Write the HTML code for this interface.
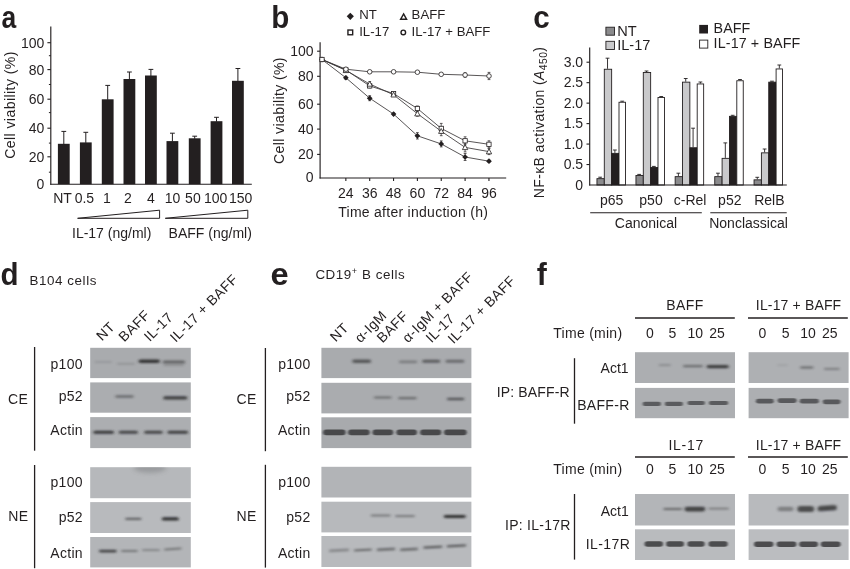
<!DOCTYPE html>
<html><head><meta charset="utf-8"><title>Figure</title>
<style>html,body{margin:0;padding:0;background:#fff;}svg{display:block;will-change:transform;font-family:"Liberation Sans",sans-serif;}</style>
</head><body>
<svg width="850" height="569" viewBox="0 0 850 569">
<rect width="850" height="569" fill="#fff"/>
<text transform="translate(1.5 27.7) scale(0.86 1)" font-size="30.8" font-weight="bold" fill="#231f20">a</text>
<text transform="translate(271.2 27.7) scale(0.96 1)" font-size="30.8" font-weight="bold" fill="#231f20">b</text>
<text transform="translate(533.3 27.5) scale(0.96 1)" font-size="30.8" font-weight="bold" fill="#231f20">c</text>
<text transform="translate(0.4 284.7) scale(0.96 1)" font-size="30.8" font-weight="bold" fill="#231f20">d</text>
<text transform="translate(270.6 284.5) scale(1.06 1)" font-size="30.8" font-weight="bold" fill="#231f20">e</text>
<text transform="translate(536.8 284.5) scale(0.98 1)" font-size="30.8" font-weight="bold" fill="#231f20">f</text>
<line x1="50.8" y1="26.5" x2="50.8" y2="184.75" stroke="#231f20" stroke-width="1.15"/>
<line x1="50.25" y1="184.2" x2="251.8" y2="184.2" stroke="#231f20" stroke-width="1.15"/>
<line x1="48.9" y1="172.2" x2="50.8" y2="172.2" stroke="#231f20" stroke-width="1.0"/>
<line x1="47.4" y1="156.8" x2="50.8" y2="156.8" stroke="#231f20" stroke-width="1.1"/>
<line x1="48.9" y1="143.1" x2="50.8" y2="143.1" stroke="#231f20" stroke-width="1.0"/>
<line x1="47.4" y1="128.2" x2="50.8" y2="128.2" stroke="#231f20" stroke-width="1.1"/>
<line x1="48.9" y1="112.6" x2="50.8" y2="112.6" stroke="#231f20" stroke-width="1.0"/>
<line x1="47.4" y1="99.2" x2="50.8" y2="99.2" stroke="#231f20" stroke-width="1.1"/>
<line x1="48.9" y1="84.5" x2="50.8" y2="84.5" stroke="#231f20" stroke-width="1.0"/>
<line x1="47.4" y1="69.6" x2="50.8" y2="69.6" stroke="#231f20" stroke-width="1.1"/>
<line x1="48.9" y1="55.7" x2="50.8" y2="55.7" stroke="#231f20" stroke-width="1.0"/>
<line x1="47.4" y1="42.7" x2="50.8" y2="42.7" stroke="#231f20" stroke-width="1.1"/>
<text x="44.3" y="161.8" font-size="14" text-anchor="end" fill="#231f20">20</text>
<text x="44.3" y="133.2" font-size="14" text-anchor="end" fill="#231f20">40</text>
<text x="44.3" y="104.2" font-size="14" text-anchor="end" fill="#231f20">60</text>
<text x="44.3" y="74.6" font-size="14" text-anchor="end" fill="#231f20">80</text>
<text x="44.3" y="47.7" font-size="14" text-anchor="end" fill="#231f20">100</text>
<text x="44.3" y="188.8" font-size="14" text-anchor="end" fill="#231f20">0</text>
<text transform="translate(15.2 105) rotate(-90)" font-size="14" text-anchor="middle" letter-spacing="0.45" fill="#231f20">Cell viability (%)</text>
<rect x="57.90" y="143.80" width="11.80" height="40.40" fill="#231f20"/>
<line x1="63.8" y1="131.4" x2="63.8" y2="144.3" stroke="#231f20" stroke-width="1.0"/>
<line x1="61.4" y1="131.4" x2="66.2" y2="131.4" stroke="#231f20" stroke-width="1.0"/>
<text x="62.5" y="202.6" font-size="14" text-anchor="middle" fill="#231f20">NT</text>
<rect x="79.90" y="142.40" width="11.80" height="41.80" fill="#231f20"/>
<line x1="85.80000000000001" y1="132.3" x2="85.80000000000001" y2="142.9" stroke="#231f20" stroke-width="1.0"/>
<line x1="83.4" y1="132.3" x2="88.20000000000002" y2="132.3" stroke="#231f20" stroke-width="1.0"/>
<text x="84.4" y="202.6" font-size="14" text-anchor="middle" fill="#231f20">0.5</text>
<rect x="101.80" y="99.30" width="11.80" height="84.90" fill="#231f20"/>
<line x1="107.7" y1="85.4" x2="107.7" y2="99.8" stroke="#231f20" stroke-width="1.0"/>
<line x1="105.3" y1="85.4" x2="110.10000000000001" y2="85.4" stroke="#231f20" stroke-width="1.0"/>
<text x="106.8" y="202.6" font-size="14" text-anchor="middle" fill="#231f20">1</text>
<rect x="123.50" y="79.00" width="11.80" height="105.20" fill="#231f20"/>
<line x1="129.4" y1="72.0" x2="129.4" y2="79.5" stroke="#231f20" stroke-width="1.0"/>
<line x1="127.0" y1="72.0" x2="131.8" y2="72.0" stroke="#231f20" stroke-width="1.0"/>
<text x="128.0" y="202.6" font-size="14" text-anchor="middle" fill="#231f20">2</text>
<rect x="145.00" y="75.50" width="11.80" height="108.70" fill="#231f20"/>
<line x1="150.9" y1="69.4" x2="150.9" y2="76.0" stroke="#231f20" stroke-width="1.0"/>
<line x1="148.5" y1="69.4" x2="153.3" y2="69.4" stroke="#231f20" stroke-width="1.0"/>
<text x="150.9" y="202.6" font-size="14" text-anchor="middle" fill="#231f20">4</text>
<rect x="166.50" y="141.10" width="11.80" height="43.10" fill="#231f20"/>
<line x1="172.4" y1="133.2" x2="172.4" y2="141.6" stroke="#231f20" stroke-width="1.0"/>
<line x1="170.0" y1="133.2" x2="174.8" y2="133.2" stroke="#231f20" stroke-width="1.0"/>
<text x="172.6" y="202.6" font-size="14" text-anchor="middle" fill="#231f20">10</text>
<rect x="188.80" y="138.30" width="11.80" height="45.90" fill="#231f20"/>
<line x1="194.70000000000002" y1="136.2" x2="194.70000000000002" y2="138.8" stroke="#231f20" stroke-width="1.0"/>
<line x1="192.3" y1="136.2" x2="197.10000000000002" y2="136.2" stroke="#231f20" stroke-width="1.0"/>
<text x="192.9" y="202.6" font-size="14" text-anchor="middle" fill="#231f20">50</text>
<rect x="210.60" y="121.20" width="11.80" height="63.00" fill="#231f20"/>
<line x1="216.5" y1="117.3" x2="216.5" y2="121.7" stroke="#231f20" stroke-width="1.0"/>
<line x1="214.1" y1="117.3" x2="218.9" y2="117.3" stroke="#231f20" stroke-width="1.0"/>
<text x="215.6" y="202.6" font-size="14" text-anchor="middle" fill="#231f20">100</text>
<rect x="232.00" y="80.80" width="11.80" height="103.40" fill="#231f20"/>
<line x1="237.9" y1="68.5" x2="237.9" y2="81.3" stroke="#231f20" stroke-width="1.0"/>
<line x1="235.5" y1="68.5" x2="240.3" y2="68.5" stroke="#231f20" stroke-width="1.0"/>
<text x="240.7" y="202.6" font-size="14" text-anchor="middle" fill="#231f20">150</text>
<path d="M77.6 218.3 L159.6 210.2 L159.6 218.3 Z" fill="#fff" stroke="#231f20" stroke-width="1"/>
<path d="M165.3 218.3 L247.8 210.2 L247.8 218.3 Z" fill="#fff" stroke="#231f20" stroke-width="1"/>
<text x="72.0" y="237.9" font-size="14" fill="#231f20">IL-17 (ng/ml)</text>
<text x="168.6" y="237.9" font-size="14" fill="#231f20">BAFF (ng/ml)</text>
<line x1="320.1" y1="42.2" x2="320.1" y2="178.55" stroke="#231f20" stroke-width="1.15"/>
<line x1="319.55" y1="178.0" x2="506.2" y2="178.0" stroke="#231f20" stroke-width="1.15"/>
<line x1="317.1" y1="154.4" x2="320.1" y2="154.4" stroke="#231f20" stroke-width="1.1"/>
<line x1="317.1" y1="129.1" x2="320.1" y2="129.1" stroke="#231f20" stroke-width="1.1"/>
<line x1="317.1" y1="104.2" x2="320.1" y2="104.2" stroke="#231f20" stroke-width="1.1"/>
<line x1="317.1" y1="76.3" x2="320.1" y2="76.3" stroke="#231f20" stroke-width="1.1"/>
<line x1="317.1" y1="51.2" x2="320.1" y2="51.2" stroke="#231f20" stroke-width="1.1"/>
<text x="313.5" y="182.2" font-size="14" text-anchor="end" fill="#231f20">0</text>
<text x="313.5" y="159.3" font-size="14" text-anchor="end" fill="#231f20">20</text>
<text x="313.5" y="133.9" font-size="14" text-anchor="end" fill="#231f20">40</text>
<text x="313.5" y="109.4" font-size="14" text-anchor="end" fill="#231f20">60</text>
<text x="313.5" y="81.1" font-size="14" text-anchor="end" fill="#231f20">80</text>
<text x="313.5" y="55.800000000000004" font-size="14" text-anchor="end" fill="#231f20">100</text>
<text transform="translate(284.2 110.5) rotate(-90)" font-size="14" text-anchor="middle" letter-spacing="0.4" fill="#231f20">Cell viability (%)</text>
<line x1="345.85" y1="178.0" x2="345.85" y2="181.0" stroke="#231f20" stroke-width="1.1"/>
<text x="345.85" y="197.6" font-size="14" text-anchor="middle" fill="#231f20">24</text>
<line x1="369.7" y1="178.0" x2="369.7" y2="181.0" stroke="#231f20" stroke-width="1.1"/>
<text x="369.7" y="197.6" font-size="14" text-anchor="middle" fill="#231f20">36</text>
<line x1="393.55" y1="178.0" x2="393.55" y2="181.0" stroke="#231f20" stroke-width="1.1"/>
<text x="393.55" y="197.6" font-size="14" text-anchor="middle" fill="#231f20">48</text>
<line x1="417.4" y1="178.0" x2="417.4" y2="181.0" stroke="#231f20" stroke-width="1.1"/>
<text x="417.4" y="197.6" font-size="14" text-anchor="middle" fill="#231f20">60</text>
<line x1="441.25" y1="178.0" x2="441.25" y2="181.0" stroke="#231f20" stroke-width="1.1"/>
<text x="441.25" y="197.6" font-size="14" text-anchor="middle" fill="#231f20">72</text>
<line x1="465.1" y1="178.0" x2="465.1" y2="181.0" stroke="#231f20" stroke-width="1.1"/>
<text x="465.1" y="197.6" font-size="14" text-anchor="middle" fill="#231f20">84</text>
<line x1="488.95000000000005" y1="178.0" x2="488.95000000000005" y2="181.0" stroke="#231f20" stroke-width="1.1"/>
<text x="488.95000000000005" y="197.6" font-size="14" text-anchor="middle" fill="#231f20">96</text>
<text x="413.2" y="216.8" font-size="14" text-anchor="middle" letter-spacing="0.27" fill="#231f20">Time after induction (h)</text>
<polyline points="322.0,59.5 345.9,69.2 369.7,71.8 393.6,71.8 417.4,72.2 441.2,74.3 465.1,75.0 489.0,76.0" fill="none" stroke="#3a3637" stroke-width="0.85"/>
<line x1="345.9" y1="68.2" x2="345.9" y2="70.2" stroke="#3a3637" stroke-width="0.8"/>
<line x1="344.5" y1="68.2" x2="347.2" y2="68.2" stroke="#3a3637" stroke-width="0.8"/>
<line x1="344.5" y1="70.2" x2="347.2" y2="70.2" stroke="#3a3637" stroke-width="0.8"/>
<line x1="369.7" y1="70.8" x2="369.7" y2="72.8" stroke="#3a3637" stroke-width="0.8"/>
<line x1="368.3" y1="70.8" x2="371.1" y2="70.8" stroke="#3a3637" stroke-width="0.8"/>
<line x1="368.3" y1="72.8" x2="371.1" y2="72.8" stroke="#3a3637" stroke-width="0.8"/>
<line x1="393.6" y1="70.8" x2="393.6" y2="72.8" stroke="#3a3637" stroke-width="0.8"/>
<line x1="392.2" y1="70.8" x2="394.9" y2="70.8" stroke="#3a3637" stroke-width="0.8"/>
<line x1="392.2" y1="72.8" x2="394.9" y2="72.8" stroke="#3a3637" stroke-width="0.8"/>
<line x1="417.4" y1="71.2" x2="417.4" y2="73.2" stroke="#3a3637" stroke-width="0.8"/>
<line x1="416.0" y1="71.2" x2="418.8" y2="71.2" stroke="#3a3637" stroke-width="0.8"/>
<line x1="416.0" y1="73.2" x2="418.8" y2="73.2" stroke="#3a3637" stroke-width="0.8"/>
<line x1="441.2" y1="73.1" x2="441.2" y2="75.5" stroke="#3a3637" stroke-width="0.8"/>
<line x1="439.9" y1="73.1" x2="442.6" y2="73.1" stroke="#3a3637" stroke-width="0.8"/>
<line x1="439.9" y1="75.5" x2="442.6" y2="75.5" stroke="#3a3637" stroke-width="0.8"/>
<line x1="465.1" y1="72.8" x2="465.1" y2="77.2" stroke="#3a3637" stroke-width="0.8"/>
<line x1="463.7" y1="72.8" x2="466.5" y2="72.8" stroke="#3a3637" stroke-width="0.8"/>
<line x1="463.7" y1="77.2" x2="466.5" y2="77.2" stroke="#3a3637" stroke-width="0.8"/>
<line x1="489.0" y1="72.4" x2="489.0" y2="79.6" stroke="#3a3637" stroke-width="0.8"/>
<line x1="487.6" y1="72.4" x2="490.4" y2="72.4" stroke="#3a3637" stroke-width="0.8"/>
<line x1="487.6" y1="79.6" x2="490.4" y2="79.6" stroke="#3a3637" stroke-width="0.8"/>
<polyline points="322.0,59.5 345.9,70.0 369.7,85.9 393.6,93.6 417.4,108.5 441.2,128.4 465.1,140.8 489.0,144.3" fill="none" stroke="#3a3637" stroke-width="0.85"/>
<line x1="345.9" y1="69.0" x2="345.9" y2="71.0" stroke="#3a3637" stroke-width="0.8"/>
<line x1="344.5" y1="69.0" x2="347.2" y2="69.0" stroke="#3a3637" stroke-width="0.8"/>
<line x1="344.5" y1="71.0" x2="347.2" y2="71.0" stroke="#3a3637" stroke-width="0.8"/>
<line x1="369.7" y1="83.9" x2="369.7" y2="87.9" stroke="#3a3637" stroke-width="0.8"/>
<line x1="368.3" y1="83.9" x2="371.1" y2="83.9" stroke="#3a3637" stroke-width="0.8"/>
<line x1="368.3" y1="87.9" x2="371.1" y2="87.9" stroke="#3a3637" stroke-width="0.8"/>
<line x1="393.6" y1="92.1" x2="393.6" y2="95.1" stroke="#3a3637" stroke-width="0.8"/>
<line x1="392.2" y1="92.1" x2="394.9" y2="92.1" stroke="#3a3637" stroke-width="0.8"/>
<line x1="392.2" y1="95.1" x2="394.9" y2="95.1" stroke="#3a3637" stroke-width="0.8"/>
<line x1="417.4" y1="106.0" x2="417.4" y2="111.0" stroke="#3a3637" stroke-width="0.8"/>
<line x1="416.0" y1="106.0" x2="418.8" y2="106.0" stroke="#3a3637" stroke-width="0.8"/>
<line x1="416.0" y1="111.0" x2="418.8" y2="111.0" stroke="#3a3637" stroke-width="0.8"/>
<line x1="441.2" y1="123.4" x2="441.2" y2="133.4" stroke="#3a3637" stroke-width="0.8"/>
<line x1="439.9" y1="123.4" x2="442.6" y2="123.4" stroke="#3a3637" stroke-width="0.8"/>
<line x1="439.9" y1="133.4" x2="442.6" y2="133.4" stroke="#3a3637" stroke-width="0.8"/>
<line x1="465.1" y1="136.8" x2="465.1" y2="144.8" stroke="#3a3637" stroke-width="0.8"/>
<line x1="463.7" y1="136.8" x2="466.5" y2="136.8" stroke="#3a3637" stroke-width="0.8"/>
<line x1="463.7" y1="144.8" x2="466.5" y2="144.8" stroke="#3a3637" stroke-width="0.8"/>
<line x1="489.0" y1="140.8" x2="489.0" y2="147.8" stroke="#3a3637" stroke-width="0.8"/>
<line x1="487.6" y1="140.8" x2="490.4" y2="140.8" stroke="#3a3637" stroke-width="0.8"/>
<line x1="487.6" y1="147.8" x2="490.4" y2="147.8" stroke="#3a3637" stroke-width="0.8"/>
<polyline points="322.0,59.5 345.9,70.4 369.7,84.0 393.6,94.8 417.4,113.7 441.2,131.2 465.1,147.4 489.0,151.6" fill="none" stroke="#3a3637" stroke-width="0.85"/>
<line x1="345.9" y1="69.4" x2="345.9" y2="71.4" stroke="#3a3637" stroke-width="0.8"/>
<line x1="344.5" y1="69.4" x2="347.2" y2="69.4" stroke="#3a3637" stroke-width="0.8"/>
<line x1="344.5" y1="71.4" x2="347.2" y2="71.4" stroke="#3a3637" stroke-width="0.8"/>
<line x1="369.7" y1="81.5" x2="369.7" y2="86.5" stroke="#3a3637" stroke-width="0.8"/>
<line x1="368.3" y1="81.5" x2="371.1" y2="81.5" stroke="#3a3637" stroke-width="0.8"/>
<line x1="368.3" y1="86.5" x2="371.1" y2="86.5" stroke="#3a3637" stroke-width="0.8"/>
<line x1="393.6" y1="93.3" x2="393.6" y2="96.3" stroke="#3a3637" stroke-width="0.8"/>
<line x1="392.2" y1="93.3" x2="394.9" y2="93.3" stroke="#3a3637" stroke-width="0.8"/>
<line x1="392.2" y1="96.3" x2="394.9" y2="96.3" stroke="#3a3637" stroke-width="0.8"/>
<line x1="417.4" y1="111.2" x2="417.4" y2="116.2" stroke="#3a3637" stroke-width="0.8"/>
<line x1="416.0" y1="111.2" x2="418.8" y2="111.2" stroke="#3a3637" stroke-width="0.8"/>
<line x1="416.0" y1="116.2" x2="418.8" y2="116.2" stroke="#3a3637" stroke-width="0.8"/>
<line x1="441.2" y1="126.7" x2="441.2" y2="135.7" stroke="#3a3637" stroke-width="0.8"/>
<line x1="439.9" y1="126.7" x2="442.6" y2="126.7" stroke="#3a3637" stroke-width="0.8"/>
<line x1="439.9" y1="135.7" x2="442.6" y2="135.7" stroke="#3a3637" stroke-width="0.8"/>
<line x1="465.1" y1="142.9" x2="465.1" y2="151.9" stroke="#3a3637" stroke-width="0.8"/>
<line x1="463.7" y1="142.9" x2="466.5" y2="142.9" stroke="#3a3637" stroke-width="0.8"/>
<line x1="463.7" y1="151.9" x2="466.5" y2="151.9" stroke="#3a3637" stroke-width="0.8"/>
<line x1="489.0" y1="148.6" x2="489.0" y2="154.6" stroke="#3a3637" stroke-width="0.8"/>
<line x1="487.6" y1="148.6" x2="490.4" y2="148.6" stroke="#3a3637" stroke-width="0.8"/>
<line x1="487.6" y1="154.6" x2="490.4" y2="154.6" stroke="#3a3637" stroke-width="0.8"/>
<polyline points="322.0,59.5 345.9,77.8 369.7,98.2 393.6,114.1 417.4,135.8 441.2,143.9 465.1,157.0 489.0,161.2" fill="none" stroke="#3a3637" stroke-width="0.85"/>
<line x1="345.9" y1="76.3" x2="345.9" y2="79.3" stroke="#3a3637" stroke-width="0.8"/>
<line x1="344.5" y1="76.3" x2="347.2" y2="76.3" stroke="#3a3637" stroke-width="0.8"/>
<line x1="344.5" y1="79.3" x2="347.2" y2="79.3" stroke="#3a3637" stroke-width="0.8"/>
<line x1="369.7" y1="95.7" x2="369.7" y2="100.7" stroke="#3a3637" stroke-width="0.8"/>
<line x1="368.3" y1="95.7" x2="371.1" y2="95.7" stroke="#3a3637" stroke-width="0.8"/>
<line x1="368.3" y1="100.7" x2="371.1" y2="100.7" stroke="#3a3637" stroke-width="0.8"/>
<line x1="393.6" y1="113.1" x2="393.6" y2="115.1" stroke="#3a3637" stroke-width="0.8"/>
<line x1="392.2" y1="113.1" x2="394.9" y2="113.1" stroke="#3a3637" stroke-width="0.8"/>
<line x1="392.2" y1="115.1" x2="394.9" y2="115.1" stroke="#3a3637" stroke-width="0.8"/>
<line x1="417.4" y1="132.6" x2="417.4" y2="139.0" stroke="#3a3637" stroke-width="0.8"/>
<line x1="416.0" y1="132.6" x2="418.8" y2="132.6" stroke="#3a3637" stroke-width="0.8"/>
<line x1="416.0" y1="139.0" x2="418.8" y2="139.0" stroke="#3a3637" stroke-width="0.8"/>
<line x1="441.2" y1="140.9" x2="441.2" y2="146.9" stroke="#3a3637" stroke-width="0.8"/>
<line x1="439.9" y1="140.9" x2="442.6" y2="140.9" stroke="#3a3637" stroke-width="0.8"/>
<line x1="439.9" y1="146.9" x2="442.6" y2="146.9" stroke="#3a3637" stroke-width="0.8"/>
<line x1="465.1" y1="153.5" x2="465.1" y2="160.5" stroke="#3a3637" stroke-width="0.8"/>
<line x1="463.7" y1="153.5" x2="466.5" y2="153.5" stroke="#3a3637" stroke-width="0.8"/>
<line x1="463.7" y1="160.5" x2="466.5" y2="160.5" stroke="#3a3637" stroke-width="0.8"/>
<line x1="489.0" y1="160.2" x2="489.0" y2="162.2" stroke="#3a3637" stroke-width="0.8"/>
<line x1="487.6" y1="160.2" x2="490.4" y2="160.2" stroke="#3a3637" stroke-width="0.8"/>
<line x1="487.6" y1="162.2" x2="490.4" y2="162.2" stroke="#3a3637" stroke-width="0.8"/>
<path d="M322.0 56.6 L324.9 59.5 L322.0 62.4 L319.1 59.5 Z" fill="#231f20"/>
<path d="M345.9 75.0 L348.7 77.8 L345.9 80.6 L343.0 77.8 Z" fill="#231f20"/>
<path d="M369.7 95.4 L372.6 98.2 L369.7 101.0 L366.8 98.2 Z" fill="#231f20"/>
<path d="M393.6 111.2 L396.4 114.1 L393.6 116.9 L390.7 114.1 Z" fill="#231f20"/>
<path d="M417.4 133.0 L420.2 135.8 L417.4 138.7 L414.5 135.8 Z" fill="#231f20"/>
<path d="M441.2 141.1 L444.1 143.9 L441.2 146.8 L438.4 143.9 Z" fill="#231f20"/>
<path d="M465.1 154.2 L468.0 157.0 L465.1 159.8 L462.2 157.0 Z" fill="#231f20"/>
<path d="M489.0 158.3 L491.8 161.2 L489.0 164.0 L486.1 161.2 Z" fill="#231f20"/>
<rect x="343.70" y="67.85" width="4.30" height="4.30" fill="#fff" stroke="#231f20" stroke-width="0.8"/>
<rect x="367.55" y="83.75" width="4.30" height="4.30" fill="#fff" stroke="#231f20" stroke-width="0.8"/>
<rect x="391.40" y="91.45" width="4.30" height="4.30" fill="#fff" stroke="#231f20" stroke-width="0.8"/>
<rect x="415.25" y="106.35" width="4.30" height="4.30" fill="#fff" stroke="#231f20" stroke-width="0.8"/>
<rect x="439.10" y="126.25" width="4.30" height="4.30" fill="#fff" stroke="#231f20" stroke-width="0.8"/>
<rect x="462.95" y="138.65" width="4.30" height="4.30" fill="#fff" stroke="#231f20" stroke-width="0.8"/>
<rect x="486.80" y="142.15" width="4.30" height="4.30" fill="#fff" stroke="#231f20" stroke-width="0.8"/>
<path d="M345.9 67.7 L348.6 72.6 L343.2 72.6 Z" fill="#fff" stroke="#231f20" stroke-width="0.8"/>
<path d="M369.7 81.3 L372.4 86.2 L367.0 86.2 Z" fill="#fff" stroke="#231f20" stroke-width="0.8"/>
<path d="M393.6 92.1 L396.2 97.0 L390.9 97.0 Z" fill="#fff" stroke="#231f20" stroke-width="0.8"/>
<path d="M417.4 111.0 L420.1 115.9 L414.7 115.9 Z" fill="#fff" stroke="#231f20" stroke-width="0.8"/>
<path d="M441.2 128.5 L443.9 133.4 L438.6 133.4 Z" fill="#fff" stroke="#231f20" stroke-width="0.8"/>
<path d="M465.1 144.7 L467.8 149.6 L462.4 149.6 Z" fill="#fff" stroke="#231f20" stroke-width="0.8"/>
<path d="M489.0 148.9 L491.7 153.8 L486.3 153.8 Z" fill="#fff" stroke="#231f20" stroke-width="0.8"/>
<circle cx="345.9" cy="69.2" r="2.3" fill="#fff" stroke="#231f20" stroke-width="0.8"/>
<circle cx="369.7" cy="71.8" r="2.3" fill="#fff" stroke="#231f20" stroke-width="0.8"/>
<circle cx="393.6" cy="71.8" r="2.3" fill="#fff" stroke="#231f20" stroke-width="0.8"/>
<circle cx="417.4" cy="72.2" r="2.3" fill="#fff" stroke="#231f20" stroke-width="0.8"/>
<circle cx="441.2" cy="74.3" r="2.3" fill="#fff" stroke="#231f20" stroke-width="0.8"/>
<circle cx="465.1" cy="75.0" r="2.3" fill="#fff" stroke="#231f20" stroke-width="0.8"/>
<circle cx="489.0" cy="76.0" r="2.3" fill="#fff" stroke="#231f20" stroke-width="0.8"/>
<rect x="319.85" y="57.35" width="4.30" height="4.30" fill="#fff" stroke="#231f20" stroke-width="0.8"/>
<path d="M350.3 12.7 L353.9 16.3 L350.3 19.9 L346.7 16.3 Z" fill="#231f20"/>
<text x="359.2" y="19.2" font-size="13.2" fill="#231f20">NT</text>
<rect x="347.94" y="30.03" width="4.73" height="4.73" fill="#fff" stroke="#231f20" stroke-width="1.4"/>
<text x="359.2" y="36.3" font-size="13.2" fill="#231f20">IL-17</text>
<path d="M403.6 13.9 L406.6 19.3 L400.6 19.3 Z" fill="#fff" stroke="#231f20" stroke-width="1.4"/>
<text x="411.6" y="19.2" font-size="13.2" fill="#231f20">BAFF</text>
<circle cx="403.3" cy="32.4" r="2.3" fill="#fff" stroke="#231f20" stroke-width="1.4"/>
<text x="411.6" y="36.3" font-size="13.2" fill="#231f20">IL-17 + BAFF</text>
<line x1="600.17" y1="177.2" x2="600.17" y2="178.2" stroke="#231f20" stroke-width="0.9"/>
<line x1="598.27" y1="177.2" x2="602.07" y2="177.2" stroke="#231f20" stroke-width="0.9"/>
<rect x="596.95" y="178.65" width="7.35" height="6.35" fill="#8b8b8d" stroke="#231f20" stroke-width="0.9"/>
<line x1="607.52" y1="58.2" x2="607.52" y2="68.8" stroke="#231f20" stroke-width="0.9"/>
<line x1="605.62" y1="58.2" x2="609.42" y2="58.2" stroke="#231f20" stroke-width="0.9"/>
<rect x="604.30" y="69.25" width="7.35" height="115.75" fill="#c9c9cb" stroke="#231f20" stroke-width="0.9"/>
<line x1="614.88" y1="150.0" x2="614.88" y2="152.9" stroke="#231f20" stroke-width="0.9"/>
<line x1="612.98" y1="150.0" x2="616.77" y2="150.0" stroke="#231f20" stroke-width="0.9"/>
<rect x="611.65" y="153.35" width="7.35" height="31.65" fill="#231f20" stroke="#231f20" stroke-width="0.9"/>
<line x1="622.22" y1="101.2" x2="622.22" y2="101.8" stroke="#231f20" stroke-width="0.9"/>
<line x1="620.32" y1="101.2" x2="624.12" y2="101.2" stroke="#231f20" stroke-width="0.9"/>
<rect x="619.00" y="102.25" width="6.45" height="82.75" fill="#fff" stroke="#231f20" stroke-width="0.9"/>
<line x1="639.17" y1="174.4" x2="639.17" y2="175.0" stroke="#231f20" stroke-width="0.9"/>
<line x1="637.27" y1="174.4" x2="641.07" y2="174.4" stroke="#231f20" stroke-width="0.9"/>
<rect x="635.95" y="175.45" width="7.35" height="9.55" fill="#8b8b8d" stroke="#231f20" stroke-width="0.9"/>
<line x1="646.52" y1="71.0" x2="646.52" y2="72.0" stroke="#231f20" stroke-width="0.9"/>
<line x1="644.62" y1="71.0" x2="648.42" y2="71.0" stroke="#231f20" stroke-width="0.9"/>
<rect x="643.30" y="72.45" width="7.35" height="112.55" fill="#c9c9cb" stroke="#231f20" stroke-width="0.9"/>
<line x1="653.88" y1="166.4" x2="653.88" y2="167.0" stroke="#231f20" stroke-width="0.9"/>
<line x1="651.98" y1="166.4" x2="655.77" y2="166.4" stroke="#231f20" stroke-width="0.9"/>
<rect x="650.65" y="167.45" width="7.35" height="17.55" fill="#231f20" stroke="#231f20" stroke-width="0.9"/>
<line x1="661.22" y1="96.5" x2="661.22" y2="97.0" stroke="#231f20" stroke-width="0.9"/>
<line x1="659.32" y1="96.5" x2="663.12" y2="96.5" stroke="#231f20" stroke-width="0.9"/>
<rect x="658.00" y="97.45" width="6.45" height="87.55" fill="#fff" stroke="#231f20" stroke-width="0.9"/>
<line x1="678.38" y1="173.2" x2="678.38" y2="176.2" stroke="#231f20" stroke-width="0.9"/>
<line x1="676.48" y1="173.2" x2="680.27" y2="173.2" stroke="#231f20" stroke-width="0.9"/>
<rect x="675.15" y="176.65" width="7.35" height="8.35" fill="#8b8b8d" stroke="#231f20" stroke-width="0.9"/>
<line x1="685.73" y1="78.5" x2="685.73" y2="81.7" stroke="#231f20" stroke-width="0.9"/>
<line x1="683.83" y1="78.5" x2="687.62" y2="78.5" stroke="#231f20" stroke-width="0.9"/>
<rect x="682.50" y="82.15" width="7.35" height="102.85" fill="#c9c9cb" stroke="#231f20" stroke-width="0.9"/>
<line x1="693.08" y1="128.2" x2="693.08" y2="147.3" stroke="#231f20" stroke-width="0.9"/>
<line x1="691.18" y1="128.2" x2="694.98" y2="128.2" stroke="#231f20" stroke-width="0.9"/>
<rect x="689.85" y="147.75" width="7.35" height="37.25" fill="#231f20" stroke="#231f20" stroke-width="0.9"/>
<line x1="700.42" y1="82.0" x2="700.42" y2="83.5" stroke="#231f20" stroke-width="0.9"/>
<line x1="698.52" y1="82.0" x2="702.32" y2="82.0" stroke="#231f20" stroke-width="0.9"/>
<rect x="697.20" y="83.95" width="6.45" height="101.05" fill="#fff" stroke="#231f20" stroke-width="0.9"/>
<line x1="717.97" y1="173.2" x2="717.97" y2="176.2" stroke="#231f20" stroke-width="0.9"/>
<line x1="716.07" y1="173.2" x2="719.87" y2="173.2" stroke="#231f20" stroke-width="0.9"/>
<rect x="714.75" y="176.65" width="7.35" height="8.35" fill="#8b8b8d" stroke="#231f20" stroke-width="0.9"/>
<line x1="725.32" y1="142.9" x2="725.32" y2="157.9" stroke="#231f20" stroke-width="0.9"/>
<line x1="723.42" y1="142.9" x2="727.22" y2="142.9" stroke="#231f20" stroke-width="0.9"/>
<rect x="722.10" y="158.35" width="7.35" height="26.65" fill="#c9c9cb" stroke="#231f20" stroke-width="0.9"/>
<line x1="732.67" y1="115.3" x2="732.67" y2="115.9" stroke="#231f20" stroke-width="0.9"/>
<line x1="730.77" y1="115.3" x2="734.57" y2="115.3" stroke="#231f20" stroke-width="0.9"/>
<rect x="729.45" y="116.35" width="7.35" height="68.65" fill="#231f20" stroke="#231f20" stroke-width="0.9"/>
<line x1="740.02" y1="79.5" x2="740.02" y2="80.3" stroke="#231f20" stroke-width="0.9"/>
<line x1="738.12" y1="79.5" x2="741.92" y2="79.5" stroke="#231f20" stroke-width="0.9"/>
<rect x="736.80" y="80.75" width="6.45" height="104.25" fill="#fff" stroke="#231f20" stroke-width="0.9"/>
<line x1="757.27" y1="177.3" x2="757.27" y2="179.4" stroke="#231f20" stroke-width="0.9"/>
<line x1="755.38" y1="177.3" x2="759.17" y2="177.3" stroke="#231f20" stroke-width="0.9"/>
<rect x="754.05" y="179.85" width="7.35" height="5.15" fill="#8b8b8d" stroke="#231f20" stroke-width="0.9"/>
<line x1="764.62" y1="149.0" x2="764.62" y2="152.4" stroke="#231f20" stroke-width="0.9"/>
<line x1="762.73" y1="149.0" x2="766.52" y2="149.0" stroke="#231f20" stroke-width="0.9"/>
<rect x="761.40" y="152.85" width="7.35" height="32.15" fill="#c9c9cb" stroke="#231f20" stroke-width="0.9"/>
<line x1="771.98" y1="81.2" x2="771.98" y2="81.7" stroke="#231f20" stroke-width="0.9"/>
<line x1="770.08" y1="81.2" x2="773.88" y2="81.2" stroke="#231f20" stroke-width="0.9"/>
<rect x="768.75" y="82.15" width="7.35" height="102.85" fill="#231f20" stroke="#231f20" stroke-width="0.9"/>
<line x1="779.32" y1="65.0" x2="779.32" y2="68.5" stroke="#231f20" stroke-width="0.9"/>
<line x1="777.42" y1="65.0" x2="781.22" y2="65.0" stroke="#231f20" stroke-width="0.9"/>
<rect x="776.10" y="68.95" width="6.45" height="116.05" fill="#fff" stroke="#231f20" stroke-width="0.9"/>
<line x1="589.7" y1="47.4" x2="589.7" y2="185.55" stroke="#231f20" stroke-width="1.15"/>
<line x1="589.1500000000001" y1="185.0" x2="786.8" y2="185.0" stroke="#231f20" stroke-width="1.15"/>
<line x1="586.5" y1="164.535" x2="589.7" y2="164.535" stroke="#231f20" stroke-width="1.1"/>
<text x="583.1" y="169.23499999999999" font-size="14" text-anchor="end" fill="#231f20">0.5</text>
<line x1="586.5" y1="144.07" x2="589.7" y2="144.07" stroke="#231f20" stroke-width="1.1"/>
<text x="583.1" y="148.76999999999998" font-size="14" text-anchor="end" fill="#231f20">1.0</text>
<line x1="586.5" y1="123.605" x2="589.7" y2="123.605" stroke="#231f20" stroke-width="1.1"/>
<text x="583.1" y="128.305" font-size="14" text-anchor="end" fill="#231f20">1.5</text>
<line x1="586.5" y1="103.14" x2="589.7" y2="103.14" stroke="#231f20" stroke-width="1.1"/>
<text x="583.1" y="107.84" font-size="14" text-anchor="end" fill="#231f20">2.0</text>
<line x1="586.5" y1="82.675" x2="589.7" y2="82.675" stroke="#231f20" stroke-width="1.1"/>
<text x="583.1" y="87.375" font-size="14" text-anchor="end" fill="#231f20">2.5</text>
<line x1="586.5" y1="62.21000000000001" x2="589.7" y2="62.21000000000001" stroke="#231f20" stroke-width="1.1"/>
<text x="583.1" y="66.91000000000001" font-size="14" text-anchor="end" fill="#231f20">3.0</text>
<text x="583.1" y="189.8" font-size="14" text-anchor="end" fill="#231f20">0</text>
<text transform="translate(543.8 122.5) rotate(-90)" font-size="14" letter-spacing="0.4" text-anchor="middle" fill="#231f20">NF-κB activation (<tspan font-style="italic">A</tspan><tspan font-size="10.3" dy="3.6">450</tspan><tspan dy="-3.6">)</tspan></text>
<rect x="605.90" y="27.20" width="8.60" height="8.00" fill="#8b8b8d" stroke="#231f20" stroke-width="0.9"/>
<text x="617.2" y="35.9" font-size="14.6" fill="#231f20">NT</text>
<rect x="605.90" y="41.30" width="8.60" height="8.20" fill="#c9c9cb" stroke="#231f20" stroke-width="0.9"/>
<text x="617.2" y="49.6" font-size="14.6" fill="#231f20">IL-17</text>
<rect x="699.20" y="24.90" width="8.80" height="8.60" fill="#231f20"/>
<text x="713.6" y="33.3" font-size="14.3" fill="#231f20">BAFF</text>
<rect x="699.60" y="40.10" width="8.20" height="8.00" fill="#fff" stroke="#231f20" stroke-width="0.9"/>
<text x="713.6" y="48.3" font-size="14.3" letter-spacing="0.12" fill="#231f20">IL-17 + BAFF</text>
<text x="611.6" y="204.8" font-size="14" text-anchor="middle" fill="#231f20">p65</text>
<text x="651.0" y="204.8" font-size="14" text-anchor="middle" fill="#231f20">p50</text>
<text x="690.1" y="204.8" font-size="14" text-anchor="middle" fill="#231f20">c-Rel</text>
<text x="729.8" y="204.8" font-size="14" text-anchor="middle" fill="#231f20">p52</text>
<text x="769.4" y="204.8" font-size="14" text-anchor="middle" fill="#231f20">RelB</text>
<line x1="590.2" y1="212.7" x2="701.8" y2="212.7" stroke="#231f20" stroke-width="1.1"/>
<line x1="710.3" y1="212.7" x2="786.7" y2="212.7" stroke="#231f20" stroke-width="1.1"/>
<text x="646.0" y="227.8" font-size="14" text-anchor="middle" fill="#231f20">Canonical</text>
<text x="748.5" y="227.8" font-size="14" text-anchor="middle" fill="#231f20">Nonclassical</text>
<defs><filter id="b1" x="-20%" y="-200%" width="140%" height="500%"><feGaussianBlur stdDeviation="1.5 0.95"/></filter><filter id="b0" x="-20%" y="-200%" width="140%" height="500%"><feGaussianBlur stdDeviation="1.0 0.7"/></filter><filter id="b2" x="-20%" y="-200%" width="140%" height="500%"><feGaussianBlur stdDeviation="1.4 0.9"/></filter><filter id="b3" x="-20%" y="-200%" width="140%" height="500%"><feGaussianBlur stdDeviation="2.5 2.2"/></filter></defs>
<text x="29.4" y="284.5" font-size="13.4" letter-spacing="0.58" fill="#231f20">B104 cells</text>
<rect x="90.20" y="347.80" width="100.60" height="30.30" fill="#a9abae"/>
<rect x="90.20" y="382.40" width="100.60" height="30.30" fill="#abadb0"/>
<rect x="90.20" y="417.10" width="100.60" height="31.00" fill="#acaeb1"/>
<rect x="90.20" y="467.20" width="100.60" height="31.00" fill="#b6b8bb"/>
<rect x="90.20" y="502.10" width="100.60" height="30.90" fill="#b8babd"/>
<rect x="90.20" y="537.00" width="100.60" height="30.40" fill="#b3b5b8"/>
<line x1="34.6" y1="347.0" x2="34.6" y2="450.7" stroke="#231f20" stroke-width="1.3"/>
<line x1="34.6" y1="465.0" x2="34.6" y2="568.2" stroke="#231f20" stroke-width="1.3"/>
<text x="8.0" y="404.0" font-size="14" letter-spacing="0.4" fill="#231f20">CE</text>
<text x="8.2" y="520.9" font-size="14" letter-spacing="0.4" fill="#231f20">NE</text>
<text x="82.9" y="368.8" font-size="14" text-anchor="end" letter-spacing="0.3" fill="#231f20">p100</text>
<text x="82.9" y="400.8" font-size="14" text-anchor="end" letter-spacing="0.3" fill="#231f20">p52</text>
<text x="82.9" y="434.8" font-size="14" text-anchor="end" letter-spacing="0.3" fill="#231f20">Actin</text>
<text x="82.9" y="487.1" font-size="14" text-anchor="end" letter-spacing="0.3" fill="#231f20">p100</text>
<text x="82.9" y="521.6" font-size="14" text-anchor="end" letter-spacing="0.3" fill="#231f20">p52</text>
<text x="82.9" y="557.6" font-size="14" text-anchor="end" letter-spacing="0.3" fill="#231f20">Actin</text>
<text transform="translate(102.1 341.5) rotate(-45)" font-size="14" letter-spacing="0.45" fill="#231f20">NT</text>
<text transform="translate(124.3 342.5) rotate(-45)" font-size="14" letter-spacing="0.45" fill="#231f20">BAFF</text>
<text transform="translate(149.8 342.3) rotate(-45)" font-size="14" letter-spacing="0.45" fill="#231f20">IL-17</text>
<text transform="translate(175.8 343.0) rotate(-45)" font-size="14" letter-spacing="0.45" fill="#231f20">IL-17 + BAFF</text>
<rect x="94.5" y="361.2" width="17.5" height="1.6" rx="0.8" fill="#2a2a2c" opacity="0.18" filter="url(#b1)"/>
<rect x="117.0" y="363.0" width="18.0" height="1.6" rx="0.8" fill="#2a2a2c" opacity="0.22" filter="url(#b1)"/>
<rect x="138.6" y="359.5" width="21.2" height="3.6" rx="1.8" fill="#2a2a2c" opacity="0.92" filter="url(#b1)"/>
<rect x="162.6" y="360.5" width="22.6" height="3.0" rx="1.5" fill="#2a2a2c" opacity="0.55" filter="url(#b1)"/>
<rect x="163.5" y="364.4" width="20.5" height="1.5" rx="0.8" fill="#2a2a2c" opacity="0.25" filter="url(#b1)"/>
<rect x="115.3" y="395.3" width="18.3" height="2.4" rx="1.2" fill="#2a2a2c" opacity="0.5" filter="url(#b1)"/>
<rect x="163.3" y="396.3" width="24.0" height="3.2" rx="1.6" fill="#2a2a2c" opacity="0.85" filter="url(#b1)"/>
<rect x="93.4" y="430.8" width="20.5" height="3.0" rx="1.5" fill="#2a2a2c" opacity="0.9" filter="url(#b1)"/>
<rect x="118.8" y="430.8" width="19.1" height="3.0" rx="1.5" fill="#2a2a2c" opacity="0.8" filter="url(#b1)"/>
<rect x="144.2" y="430.8" width="18.4" height="3.0" rx="1.5" fill="#2a2a2c" opacity="0.8" filter="url(#b1)"/>
<rect x="167.5" y="430.8" width="20.5" height="3.0" rx="1.5" fill="#2a2a2c" opacity="0.85" filter="url(#b1)"/>
<clipPath id="cd4"><rect x="90.2" y="467.2" width="100.6" height="31"/></clipPath>
<g clip-path="url(#cd4)"><ellipse cx="150" cy="468" rx="16" ry="5" fill="#77787b" opacity="0.45" filter="url(#b3)"/></g>
<rect x="125.2" y="517.8" width="16.2" height="2.2" rx="1.1" fill="#2a2a2c" opacity="0.6" filter="url(#b1)"/>
<rect x="161.9" y="517.3" width="16.9" height="3.2" rx="1.6" fill="#2a2a2c" opacity="0.95" filter="url(#b1)"/>
<rect x="99.0" y="549.8" width="17.7" height="2.6" rx="1.3" fill="#2a2a2c" opacity="0.8" filter="url(#b1)"/>
<rect x="121.0" y="550.0" width="16.9" height="2.0" rx="1.0" fill="#2a2a2c" opacity="0.45" filter="url(#b1)"/>
<rect x="142.1" y="549.3" width="17.7" height="1.8" rx="0.9" fill="#2a2a2c" opacity="0.38" filter="url(#b1)"/>
<rect x="164.0" y="548.1" width="17.6" height="1.8" rx="0.9" fill="#2a2a2c" opacity="0.45" filter="url(#b1)" transform="rotate(-4 172.8 549.0)"/>
<text x="315.4" y="279.2" font-size="13.4" letter-spacing="0.55" fill="#231f20">CD19<tspan font-size="9" dy="-5.2">+</tspan><tspan dy="5.2"> B cells</tspan></text>
<rect x="321.40" y="347.80" width="150.00" height="30.30" fill="#a9abae"/>
<rect x="321.40" y="382.80" width="150.00" height="30.60" fill="#aaacaf"/>
<rect x="321.40" y="417.30" width="150.00" height="30.80" fill="#a8aaad"/>
<rect x="321.40" y="466.80" width="150.00" height="30.70" fill="#b2b4b7"/>
<rect x="321.40" y="501.70" width="150.00" height="30.70" fill="#b7b9bc"/>
<rect x="321.40" y="536.00" width="150.00" height="31.00" fill="#b8babd"/>
<line x1="265.4" y1="348.0" x2="265.4" y2="451.2" stroke="#231f20" stroke-width="1.3"/>
<line x1="265.4" y1="464.8" x2="265.4" y2="567.6" stroke="#231f20" stroke-width="1.3"/>
<text x="236.4" y="404.0" font-size="14" letter-spacing="0.4" fill="#231f20">CE</text>
<text x="236.5" y="520.9" font-size="14" letter-spacing="0.4" fill="#231f20">NE</text>
<text x="310.5" y="368.8" font-size="14" text-anchor="end" letter-spacing="0.3" fill="#231f20">p100</text>
<text x="310.5" y="400.8" font-size="14" text-anchor="end" letter-spacing="0.3" fill="#231f20">p52</text>
<text x="310.5" y="434.8" font-size="14" text-anchor="end" letter-spacing="0.3" fill="#231f20">Actin</text>
<text x="310.5" y="487.1" font-size="14" text-anchor="end" letter-spacing="0.3" fill="#231f20">p100</text>
<text x="310.5" y="521.6" font-size="14" text-anchor="end" letter-spacing="0.3" fill="#231f20">p52</text>
<text x="310.5" y="557.6" font-size="14" text-anchor="end" letter-spacing="0.3" fill="#231f20">Actin</text>
<text transform="translate(335.8 342.5) rotate(-45)" font-size="14" letter-spacing="0.45" fill="#231f20">NT</text>
<text transform="translate(360.5 343.5) rotate(-45)" font-size="14" letter-spacing="0.45" fill="#231f20">α-IgM</text>
<text transform="translate(382.5 343.5) rotate(-45)" font-size="14" letter-spacing="0.45" fill="#231f20">BAFF</text>
<text transform="translate(408.0 343.5) rotate(-45)" font-size="14" letter-spacing="0.45" fill="#231f20">α-IgM + BAFF</text>
<text transform="translate(431.5 343.5) rotate(-45)" font-size="14" letter-spacing="0.45" fill="#231f20">IL-17</text>
<text transform="translate(453.5 344.5) rotate(-45)" font-size="14" letter-spacing="0.45" fill="#231f20">IL-17 + BAFF</text>
<rect x="352.3" y="359.5" width="18.7" height="3.4" rx="1.7" fill="#2a2a2c" opacity="0.65" filter="url(#b1)"/>
<rect x="399.0" y="360.5" width="18.3" height="2.8" rx="1.4" fill="#2a2a2c" opacity="0.35" filter="url(#b1)"/>
<rect x="422.2" y="359.7" width="18.0" height="3.0" rx="1.5" fill="#2a2a2c" opacity="0.62" filter="url(#b1)"/>
<rect x="445.5" y="359.7" width="18.8" height="3.0" rx="1.5" fill="#2a2a2c" opacity="0.5" filter="url(#b1)"/>
<rect x="373.9" y="396.4" width="17.6" height="2.2" rx="1.1" fill="#2a2a2c" opacity="0.5" filter="url(#b1)"/>
<rect x="398.2" y="397.1" width="18.4" height="2.2" rx="1.1" fill="#2a2a2c" opacity="0.5" filter="url(#b1)"/>
<rect x="447.0" y="397.8" width="17.3" height="2.4" rx="1.2" fill="#2a2a2c" opacity="0.65" filter="url(#b1)"/>
<rect x="323.1" y="429.4" width="22.5" height="5.8" rx="2.9" fill="#404042" opacity="0.92" filter="url(#b0)"/>
<rect x="348.1" y="429.4" width="21.6" height="5.8" rx="2.9" fill="#404042" opacity="0.92" filter="url(#b0)"/>
<rect x="372.5" y="429.4" width="20.7" height="5.8" rx="2.9" fill="#404042" opacity="0.92" filter="url(#b0)"/>
<rect x="396.4" y="429.4" width="20.6" height="5.8" rx="2.9" fill="#404042" opacity="0.92" filter="url(#b0)"/>
<rect x="420.1" y="429.4" width="21.2" height="5.8" rx="2.9" fill="#404042" opacity="0.92" filter="url(#b0)"/>
<rect x="444.0" y="429.4" width="22.7" height="5.8" rx="2.9" fill="#404042" opacity="0.92" filter="url(#b0)"/>
<rect x="370.8" y="514.6" width="19.7" height="1.8" rx="0.9" fill="#2a2a2c" opacity="0.45" filter="url(#b1)"/>
<rect x="395.1" y="515.2" width="19.7" height="1.8" rx="0.9" fill="#2a2a2c" opacity="0.5" filter="url(#b1)"/>
<rect x="443.8" y="515.1" width="21.9" height="2.8" rx="1.4" fill="#2a2a2c" opacity="0.95" filter="url(#b1)"/>
<rect x="329.0" y="549.3" width="20.2" height="2.2" rx="1.1" fill="#2a2a2c" opacity="0.42" filter="url(#b1)" transform="rotate(-3 339.1 550.4)"/>
<rect x="353.8" y="548.9" width="18.2" height="2.2" rx="1.1" fill="#2a2a2c" opacity="0.5700000000000001" filter="url(#b1)" transform="rotate(-3 362.9 550.0)"/>
<rect x="376.7" y="548.3" width="18.6" height="2.2" rx="1.1" fill="#2a2a2c" opacity="0.62" filter="url(#b1)" transform="rotate(-3 386.0 549.4)"/>
<rect x="400.0" y="548.3" width="18.0" height="2.2" rx="1.1" fill="#2a2a2c" opacity="0.62" filter="url(#b1)" transform="rotate(-3 409.0 549.4)"/>
<rect x="423.3" y="546.1" width="19.1" height="2.2" rx="1.1" fill="#2a2a2c" opacity="0.67" filter="url(#b1)" transform="rotate(-3 432.9 547.2)"/>
<rect x="446.6" y="544.7" width="19.7" height="2.2" rx="1.1" fill="#2a2a2c" opacity="0.67" filter="url(#b1)" transform="rotate(-3 456.5 545.8)"/>
<rect x="635.00" y="352.20" width="100.00" height="30.80" fill="#acaeb1"/>
<rect x="748.60" y="352.20" width="100.00" height="30.80" fill="#aeb0b3"/>
<rect x="635.00" y="387.90" width="100.00" height="30.30" fill="#adafb2"/>
<rect x="748.60" y="387.90" width="100.00" height="30.30" fill="#adafb2"/>
<rect x="635.00" y="494.00" width="100.00" height="31.50" fill="#b3b5b8"/>
<rect x="748.60" y="494.00" width="100.00" height="31.50" fill="#b8babd"/>
<rect x="635.00" y="529.30" width="100.00" height="30.70" fill="#b9bbbe"/>
<rect x="748.60" y="529.30" width="100.00" height="30.70" fill="#bbbdc0"/>
<line x1="574.5" y1="358.2" x2="574.5" y2="423.7" stroke="#231f20" stroke-width="1.3"/>
<line x1="574.5" y1="494.0" x2="574.5" y2="559.6" stroke="#231f20" stroke-width="1.3"/>
<text x="685.0" y="309.7" font-size="14" text-anchor="middle" letter-spacing="0.4" fill="#231f20">BAFF</text>
<text x="798.6" y="309.7" font-size="14" text-anchor="middle" letter-spacing="0.15" fill="#231f20">IL-17 + BAFF</text>
<text x="686.2" y="449.6" font-size="14" text-anchor="middle" letter-spacing="0.7" fill="#231f20">IL-17</text>
<text x="798.6" y="449.6" font-size="14" text-anchor="middle" letter-spacing="0.15" fill="#231f20">IL-17 + BAFF</text>
<line x1="635.0" y1="318.0" x2="734.8" y2="318.0" stroke="#231f20" stroke-width="1.4"/>
<line x1="748.0" y1="318.0" x2="847.8" y2="318.0" stroke="#231f20" stroke-width="1.4"/>
<line x1="635.0" y1="457.0" x2="734.8" y2="457.0" stroke="#231f20" stroke-width="1.4"/>
<line x1="748.0" y1="457.0" x2="847.8" y2="457.0" stroke="#231f20" stroke-width="1.4"/>
<text x="553.3" y="337.5" font-size="14" letter-spacing="0.27" fill="#231f20">Time (min)</text>
<text x="649.9" y="337.5" font-size="14" text-anchor="middle" fill="#231f20">0</text>
<text x="672.5" y="337.5" font-size="14" text-anchor="middle" fill="#231f20">5</text>
<text x="695.3" y="337.5" font-size="14" text-anchor="middle" fill="#231f20">10</text>
<text x="717.1" y="337.5" font-size="14" text-anchor="middle" fill="#231f20">25</text>
<text x="762.5" y="337.5" font-size="14" text-anchor="middle" fill="#231f20">0</text>
<text x="785.6" y="337.5" font-size="14" text-anchor="middle" fill="#231f20">5</text>
<text x="808.0" y="337.5" font-size="14" text-anchor="middle" fill="#231f20">10</text>
<text x="829.8" y="337.5" font-size="14" text-anchor="middle" fill="#231f20">25</text>
<text x="553.3" y="474.4" font-size="14" letter-spacing="0.27" fill="#231f20">Time (min)</text>
<text x="649.9" y="474.4" font-size="14" text-anchor="middle" fill="#231f20">0</text>
<text x="672.5" y="474.4" font-size="14" text-anchor="middle" fill="#231f20">5</text>
<text x="695.3" y="474.4" font-size="14" text-anchor="middle" fill="#231f20">10</text>
<text x="717.1" y="474.4" font-size="14" text-anchor="middle" fill="#231f20">25</text>
<text x="762.5" y="474.4" font-size="14" text-anchor="middle" fill="#231f20">0</text>
<text x="785.6" y="474.4" font-size="14" text-anchor="middle" fill="#231f20">5</text>
<text x="808.0" y="474.4" font-size="14" text-anchor="middle" fill="#231f20">10</text>
<text x="829.8" y="474.4" font-size="14" text-anchor="middle" fill="#231f20">25</text>
<text x="569.8" y="396.9" font-size="14" text-anchor="end" letter-spacing="0.15" fill="#231f20">IP: BAFF-R</text>
<text x="570.6" y="529.9" font-size="14" text-anchor="end" letter-spacing="0.25" fill="#231f20">IP: IL-17R</text>
<text x="628.6" y="373.3" font-size="14" text-anchor="end" fill="#231f20">Act1</text>
<text x="629.6" y="409.5" font-size="14" text-anchor="end" letter-spacing="0.3" fill="#231f20">BAFF-R</text>
<text x="628.8" y="516.2" font-size="14" text-anchor="end" fill="#231f20">Act1</text>
<text x="630.2" y="549.1" font-size="14" text-anchor="end" letter-spacing="0.4" fill="#231f20">IL-17R</text>
<rect x="658.6" y="364.3" width="12.2" height="1.6" rx="0.8" fill="#2a2a2c" opacity="0.28" filter="url(#b1)"/>
<rect x="683.0" y="364.9" width="19.8" height="2.4" rx="1.2" fill="#2a2a2c" opacity="0.5" filter="url(#b1)"/>
<rect x="706.6" y="364.9" width="22.2" height="3.4" rx="1.7" fill="#2a2a2c" opacity="0.85" filter="url(#b1)"/>
<rect x="642.6" y="401.8" width="18.4" height="4.2" rx="2.1" fill="#38383a" opacity="0.7" filter="url(#b0)"/>
<rect x="664.8" y="401.8" width="18.2" height="4.2" rx="2.1" fill="#38383a" opacity="0.7" filter="url(#b0)"/>
<rect x="687.4" y="400.9" width="17.6" height="4.2" rx="2.1" fill="#38383a" opacity="0.7" filter="url(#b0)"/>
<rect x="708.8" y="400.9" width="19.4" height="4.2" rx="2.1" fill="#38383a" opacity="0.7" filter="url(#b0)"/>
<rect x="777.0" y="364.6" width="11.0" height="1.4" rx="0.7" fill="#2a2a2c" opacity="0.12" filter="url(#b1)"/>
<rect x="800.1" y="366.6" width="13.2" height="2.0" rx="1.0" fill="#2a2a2c" opacity="0.55" filter="url(#b1)"/>
<rect x="824.0" y="368.0" width="15.6" height="1.8" rx="0.9" fill="#2a2a2c" opacity="0.42" filter="url(#b1)"/>
<rect x="755.9" y="398.8" width="17.9" height="4.8" rx="2.4" fill="#38383a" opacity="0.72" filter="url(#b0)"/>
<rect x="777.5" y="398.2" width="19.2" height="4.8" rx="2.4" fill="#38383a" opacity="0.72" filter="url(#b0)"/>
<rect x="799.7" y="398.8" width="19.2" height="4.8" rx="2.4" fill="#38383a" opacity="0.72" filter="url(#b0)"/>
<rect x="822.7" y="399.4" width="17.9" height="4.8" rx="2.4" fill="#38383a" opacity="0.72" filter="url(#b0)"/>
<rect x="663.3" y="508.1" width="18.8" height="2.0" rx="1.0" fill="#2a2a2c" opacity="0.55" filter="url(#b1)"/>
<rect x="684.5" y="506.8" width="20.7" height="4.6" rx="2.3" fill="#2a2a2c" opacity="0.82" filter="url(#b1)"/>
<rect x="708.5" y="507.8" width="20.3" height="1.6" rx="0.8" fill="#2a2a2c" opacity="0.45" filter="url(#b1)"/>
<rect x="644.5" y="541.3" width="18.5" height="5.4" rx="2.7" fill="#404042" opacity="0.9" filter="url(#b0)"/>
<rect x="666.1" y="541.3" width="17.9" height="5.4" rx="2.7" fill="#404042" opacity="0.9" filter="url(#b0)"/>
<rect x="687.4" y="541.3" width="17.3" height="5.4" rx="2.7" fill="#404042" opacity="0.9" filter="url(#b0)"/>
<rect x="708.5" y="541.3" width="19.2" height="5.4" rx="2.7" fill="#404042" opacity="0.9" filter="url(#b0)"/>
<rect x="777.5" y="506.7" width="16.0" height="4.6" rx="2.3" fill="#2a2a2c" opacity="0.4" filter="url(#b1)"/>
<rect x="797.3" y="505.9" width="16.9" height="6.2" rx="3.1" fill="#2a2a2c" opacity="0.75" filter="url(#b1)"/>
<rect x="817.6" y="505.6" width="19.2" height="5.2" rx="2.6" fill="#2a2a2c" opacity="0.8" filter="url(#b1)" transform="rotate(-4 827.2 508.2)"/>
<rect x="754.0" y="541.6" width="19.4" height="5.4" rx="2.7" fill="#404042" opacity="0.9" filter="url(#b0)"/>
<rect x="776.6" y="541.6" width="19.8" height="5.4" rx="2.7" fill="#404042" opacity="0.9" filter="url(#b0)"/>
<rect x="799.2" y="541.6" width="18.8" height="5.4" rx="2.7" fill="#404042" opacity="0.9" filter="url(#b0)"/>
<rect x="820.8" y="541.6" width="19.8" height="5.4" rx="2.7" fill="#404042" opacity="0.9" filter="url(#b0)"/>
</svg>
</body></html>
